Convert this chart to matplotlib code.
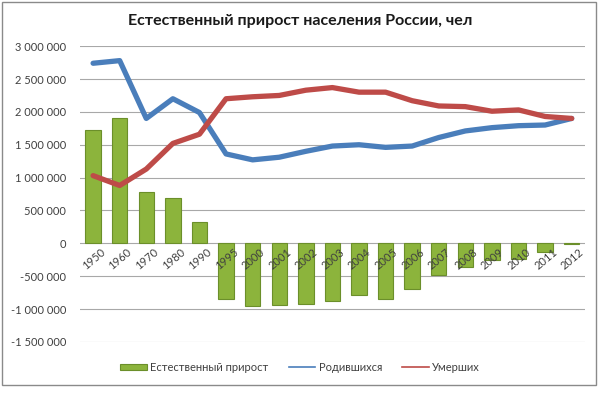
import matplotlib.pyplot as plt
from matplotlib.ticker import FuncFormatter
from matplotlib.patches import Rectangle
from matplotlib.lines import Line2D
import matplotlib.transforms as mtransforms

# === DATA ===
years = ["1950", "1960", "1970", "1980", "1990", "1995", "2000", "2001", "2002", "2003",
         "2004", "2005", "2006", "2007", "2008", "2009", "2010", "2011", "2012"]
natural_growth = [1720000, 1900000, 780000, 690000, 330000, -840000, -960000, -940000, -930000, -880000,
                  -790000, -850000, -690000, -480000, -360000, -250000, -240000, -130000, -10000]
births = [2740000, 2780000, 1900000, 2200000, 1990000, 1360000, 1270000, 1310000, 1400000, 1480000,
          1500000, 1460000, 1480000, 1610000, 1710000, 1760000, 1790000, 1800000, 1900000]
deaths = [1030000, 880000, 1130000, 1520000, 1660000, 2200000, 2230000, 2250000, 2330000, 2370000,
          2300000, 2300000, 2170000, 2090000, 2080000, 2010000, 2030000, 1930000, 1900000]

plt.rcParams['font.family'] = ['Lato', 'DejaVu Sans']

fig = plt.figure(figsize=(6, 3.98), dpi=100)
ax = fig.add_axes([0.133, 0.141, 0.842, 0.743])

x = list(range(len(years)))
ax.bar(x, natural_growth, width=0.58, color='#8cb43c', edgecolor='#6b8f2a', linewidth=0.8, zorder=2)
ax.plot(x, births, color='#4a7ebb', lw=3.8, zorder=3, solid_capstyle='round')
ax.plot(x, deaths, color='#be4b48', lw=3.8, zorder=3, solid_capstyle='round')

ax.set_ylim(-1500000, 3000000)
ax.set_xlim(-0.5, len(years) - 0.5)
ax.set_yticks(range(-1500000, 3000001, 500000))
ax.yaxis.set_major_formatter(FuncFormatter(lambda v, p: f"{int(v):,}".replace(",", " ")))
ax.grid(axis='y', color='#a8a8a8', lw=0.8, zorder=0)
ax.tick_params(axis='y', length=0, labelsize=8, colors='#404040', pad=10)

for s in ['top', 'right', 'left', 'bottom']:
    ax.spines[s].set_visible(False)
ax.set_xticks([])

# category labels, drawn on top of the bars
off = mtransforms.offset_copy(ax.transData, fig=fig, x=7, y=-3, units='dots')
for i, yr in enumerate(years):
    ax.text(i, 0, yr, transform=off, rotation=40, ha='right', va='top', rotation_mode='anchor',
            fontsize=8, color='#404040', zorder=5)

fig.text(0.5, 0.948, 'Естественный прирост населения России, чел', ha='center', va='center',
         fontsize=11.5, fontweight='bold', color='#1a1a1a')

handles = [
    Rectangle((0, 0), 1, 1, facecolor='#8cb43c', edgecolor='#6b8f2a', lw=0.8),
    Line2D([0], [0], color='#4a7ebb', lw=1.2),
    Line2D([0], [0], color='#be4b48', lw=1.2),
]
fig.legend(handles, ['Естественный прирост', 'Родившихся', 'Умерших'], loc='center',
           bbox_to_anchor=(0.5, 0.077), ncol=3, frameon=False, fontsize=8,
           handlelength=2.4, handleheight=0.45, columnspacing=1.8, handletextpad=0.3,
           labelcolor='#404040')

fig.patches.append(Rectangle((0.004, 0.033), 0.99, 0.962, transform=fig.transFigure,
                             fill=False, edgecolor='#8a8a8a', lw=1))

fig.savefig('out.png', dpi=100)
